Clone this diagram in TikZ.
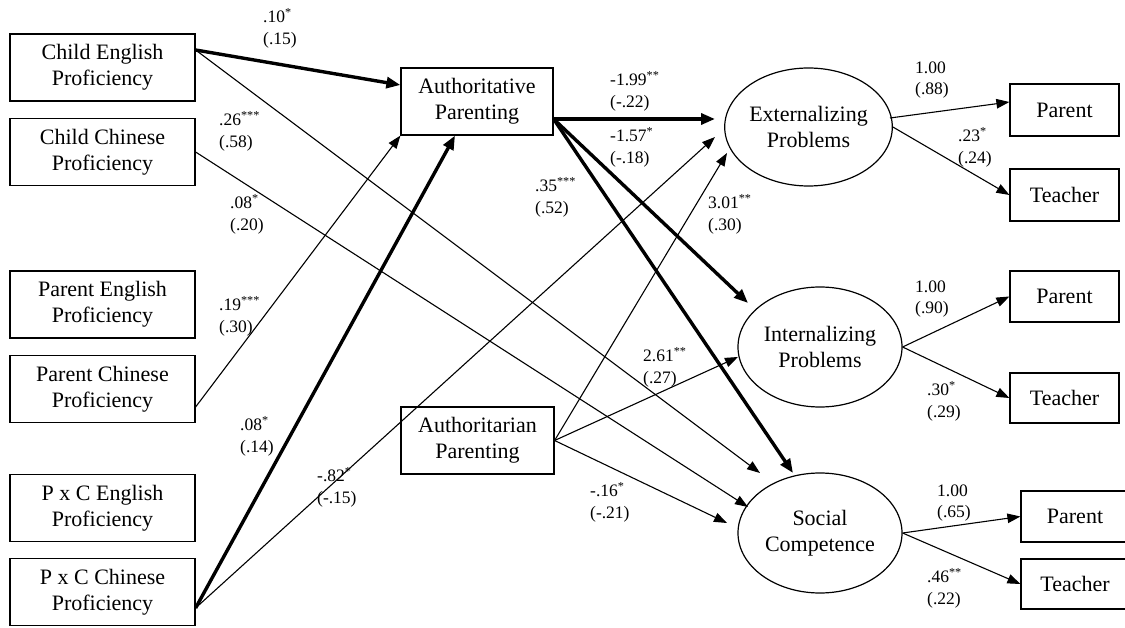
\documentclass[tikz,border=0pt]{standalone}
\usepackage{fontspec}
\setmainfont{Liberation Serif}
\usetikzlibrary{arrows.meta,calc,shapes.geometric}
\begin{document}
\begin{tikzpicture}[x=1pt,y=-1pt,
  box/.style={draw, line width=1.2pt, inner sep=0pt, align=center,
    font=\fontsize{22}{26}\selectfont},
  lbox/.style={box, minimum width=185, minimum height=67},
  mbox/.style={box, minimum width=152, minimum height=67},
  rbox/.style={box, minimum width=109, minimum height=51},
  lat/.style={draw, ellipse, line width=1.2pt, inner sep=0pt, align=center,
    font=\fontsize{22}{26}\selectfont, minimum width=164, minimum height=120},
  pth/.style={line width=1.1pt, -{Triangle[length=13pt,width=9.5pt]}},
  strong/.style={line width=3.4pt, -{Triangle[length=14pt,width=11pt]}},
  coef/.style={anchor=west, align=left, inner sep=0pt,
    font=\fontsize{17.5}{21.5}\selectfont}]
\useasboundingbox (0,0) rectangle (1125,628);
\clip (0,0) rectangle (1125,628);

% left boxes
\node[lbox] (ce) at (102.5,67.5) {Child English\\Proficiency};
\node[lbox] (cc) at (102.5,152) {Child Chinese\\Proficiency};
\node[lbox] (pe) at (102.5,304.5) {Parent English\\Proficiency};
\node[lbox] (pc) at (102.5,389) {Parent Chinese\\Proficiency};
\node[lbox] (xe) at (102.5,508) {P x C English\\Proficiency};
\node[lbox] (xc) at (102.5,592) {P x C Chinese\\Proficiency};

% middle boxes
\node[mbox] (ap) at (477,101.5) {Authoritative\\Parenting};
\node[mbox, minimum width=153] (ar) at (477.5,440.5) {Authoritarian\\Parenting};

% latent variables
\node[lat, minimum width=163, minimum height=118] (ext) at (808.5,127) {Externalizing\\Problems};
\node[lat] (int) at (820,347) {Internalizing\\Problems};
\node[lat] (soc) at (820,533) {Social\\Competence};

% indicators
\node[rbox, minimum height=52] (ep) at (1064.5,110) {Parent};
\node[rbox, minimum height=52] (et) at (1064.5,195) {Teacher};
\node[rbox] (ip) at (1064.5,296.5) {Parent};
\node[rbox, minimum height=50] (it) at (1064.5,398) {Teacher};
\node[rbox, minimum width=108] (sp) at (1075,516.5) {Parent};
\node[rbox, minimum width=108, minimum height=50] (st) at (1075,584) {Teacher};

% paths
\draw[strong] ([yshift=17.5]ce.east) -- ([yshift=16.5]ap.west);
\draw[pth] ([yshift=17.5]ce.east) -- ($(soc.center)+(-60,-60)$);
\draw[pth] (cc.east) -- ($(soc.center)+(-72,-26)$);
\draw[pth] ([yshift=-18]pc.east) -- (ap.south west);
\draw[strong] ([yshift=-16]xc.east) -- ([xshift=-22]ap.south);
\draw[pth] ([yshift=-16]xc.east) -- ($(ext.center)+(-93.5,10)$);
\draw[strong] ([yshift=-17.5]ap.east) -- ($(ext.center)+(-93.5,-8)$);
\draw[strong] ([yshift=-17.5]ap.east) -- ($(int.center)+(-72,-44)$);
\draw[strong] ([yshift=-17.5]ap.east) -- ($(soc.center)+(-27,-60)$);
\draw[pth] (ar.east) -- ($(ext.center)+(-81.5,26)$);
\draw[pth] (ar.east) -- ($(int.center)+(-82,10)$);
\draw[pth] (ar.east) -- ($(soc.center)+(-93,-10)$);

\draw[pth] ($(ext.center)+(81.5,-9)$) -- ([yshift=8]ep.west);
\draw[pth] (ext.east) -- (et.west);
\draw[pth] (int.east) -- (ip.west);
\draw[pth] (int.east) -- (it.west);
\draw[pth] (soc.east) -- (sp.west);
\draw[pth] (soc.east) -- (st.west);

% coefficients
\node[coef] (l1) at (263,28) {.10\textsuperscript{*}\\(.15)};
\node[coef] (l2) at (219,131) {.26\textsuperscript{***}\\(.58)};
\node[coef] (l3) at (230,214) {.08\textsuperscript{*}\\(.20)};
\node[coef] (l4) at (219,316) {.19\textsuperscript{***}\\(.30)};
\node[coef] (l5) at (240,436) {.08\textsuperscript{*}\\(.14)};
\node[coef] (l6) at (317,487) {-.82\textsuperscript{*}\\(-.15)};
\node[coef] (l7) at (610,91) {-1.99\textsuperscript{**}\\(-.22)};
\node[coef] (l8) at (610,147) {-1.57\textsuperscript{*}\\(-.18)};
\node[coef] (l9) at (535,197) {.35\textsuperscript{***}\\(.52)};
\node[coef] (l10) at (708,214) {3.01\textsuperscript{**}\\(.30)};
\node[coef] (l11) at (643,367) {2.61\textsuperscript{**}\\(.27)};
\node[coef] (l12) at (590,502) {-.16\textsuperscript{*}\\(-.21)};
\node[coef] (l13) at (915,80) {1.00\\(.88)};
\node[coef] (l14) at (958,147) {.23\textsuperscript{*}\\(.24)};
\node[coef] (l15) at (915,299) {1.00\\(.90)};
\node[coef] (l16) at (927,401) {.30\textsuperscript{*}\\(.29)};
\node[coef] (l17) at (937,503) {1.00\\(.65)};
\node[coef] (l18) at (927,588) {.46\textsuperscript{**}\\(.22)};
\end{tikzpicture}
\end{document}
